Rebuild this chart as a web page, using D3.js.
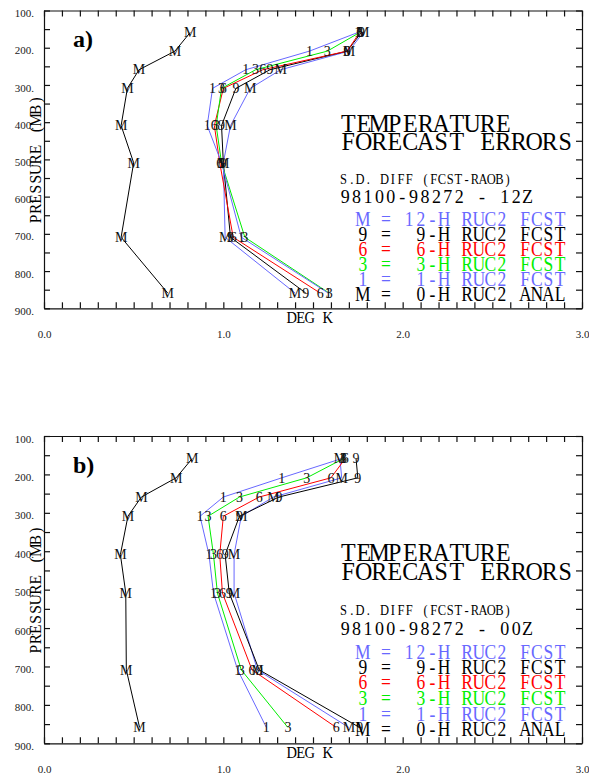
<!DOCTYPE html>
<html>
<head>
<meta charset="utf-8">
<script src="https://cdn.jsdelivr.net/npm/d3@7"></script>
<style>
  body { margin: 0; background: #fff; }
  text { white-space: pre; }
</style>
</head>
<body>
<div id="chart"></div>
<script>
// pressure levels (mb) of the soundings
var levels = [150, 200, 250, 300, 400, 500, 700, 850];

// panel a) 12Z, s.d. of temperature difference (deg K)
var anal12z  = [0.815, 0.73, 0.53, 0.465, 0.43, 0.50, 0.43, 0.69];
var fcst1h12z  = [1.75, 1.48, 1.125, 0.94, 0.91, 0.99, 1.10, 1.585];
var fcst3h12z  = [1.76, 1.58, 1.18, 0.99, 0.96, 0.99, 1.12, 1.59];
var fcst6h12z  = [1.76, 1.69, 1.22, 1.00, 0.95, 0.98, 1.055, 1.54];
var fcst9h12z  = [1.77, 1.69, 1.26, 1.07, 0.99, 1.00, 1.04, 1.46];
var fcst12h12z = [1.78, 1.70, 1.32, 1.15, 1.04, 1.00, 1.01, 1.40];

// panel b) 00Z
var anal00z  = [0.826, 0.737, 0.543, 0.468, 0.426, 0.456, 0.459, 0.533];
var fcst1h00z  = [1.66, 1.326, 1.00, 0.87, 0.92, 0.945, 1.08, 1.24];
var fcst3h00z  = [1.67, 1.465, 1.09, 0.915, 0.945, 0.967, 1.10, 1.36];
var fcst6h00z  = [1.68, 1.60, 1.20, 1.00, 0.98, 0.995, 1.16, 1.63];
var fcst9h00z  = [1.74, 1.75, 1.31, 1.09, 1.01, 1.033, 1.20, 1.76];
var fcst12h00z = [1.65, 1.66, 1.28, 1.10, 1.06, 1.06, 1.19, 1.70];

// axis ticks
var xLabelTicks = [0, 1, 2, 3];
var yLabelTicks = [100, 200, 300, 400, 500, 600, 700, 800, 900];

// series symbols, colours and legend text (drawn top to bottom)
var seriesMarks  = ['M', '9', '6', '3', '1', 'M'];
var seriesColors = ['#6868ff', '#000000', '#ff0000', '#00ee00', '#6868ff', '#000000'];
var legendLines  = ['M = 12-H RUC2 FCST', '9 =  9-H RUC2 FCST', '6 =  6-H RUC2 FCST',
                    '3 =  3-H RUC2 FCST', '1 =  1-H RUC2 FCST', 'M =  0-H RUC2 ANAL'];

var panels = [
  { tag: 'a)', time: '98100-98272 - 12Z', top: 10.5, bottom: 308.3,
    series: [fcst12h12z, fcst9h12z, fcst6h12z, fcst3h12z, fcst1h12z, anal12z] },
  { tag: 'b)', time: '98100-98272 - 00Z', top: 436, bottom: 743.3,
    series: [fcst12h00z, fcst9h00z, fcst6h00z, fcst3h00z, fcst1h00z, anal00z] }
];

var W = 589, H = 776;
var svg = d3.select('#chart').append('svg')
            .attr('width', W)
            .attr('height', H)
            .style('background', '#fff');

var x = d3.scaleLinear().domain([0, 3]).range([44, 582]);
var serif = 'Liberation Serif';

// plotter style text: serif glyphs on a fixed pitch, stretched upward
function mtext(g, str, tx, ty, pitch, fs, sy, color, rot) {
  var xs = str.split('').map(function(c, i) { return ((i + 0.5) * pitch).toFixed(2); });
  return g.append('text')
          .attr('transform', 'translate(' + tx + ',' + ty + ')' + (rot ? ' rotate(-90)' : '') + ' scale(1,' + sy + ')')
          .attr('x', xs.join(' '))
          .attr('font-family', serif)
          .attr('font-size', fs)
          .attr('fill', color || '#000')
          .attr('text-anchor', 'middle')
          .text(str);
}

panels.forEach(function(p) {

  var g = svg.append('g');
  var y = d3.scaleLinear().domain([100, 900]).range([p.top, p.bottom]);
  var h = p.bottom - p.top;
  var fy = function(f) { return p.top + f * h; };
  var shift = 3.4;

  // axes, ticks point inward
  var xt = d3.range(0, 30.5, 1).map(function(d) { return d / 10; });
  var yt = d3.range(100, 901, 50);

  g.append('g')
   .attr('transform', 'translate(0,' + p.bottom + ')')
   .call(d3.axisBottom(x).tickValues(xt).tickSizeInner(-6).tickSizeOuter(0).tickPadding(22)
           .tickFormat(function(d) { return Math.abs(d - Math.round(d)) < 1e-6 && xLabelTicks.indexOf(Math.round(d)) >= 0 ? d3.format('.1f')(d) : ''; }));
  g.append('g')
   .attr('transform', 'translate(0,' + p.top + ')')
   .call(d3.axisTop(x).tickValues(xt).tickSizeInner(-6).tickSizeOuter(0).tickFormat(''));
  var yl = g.append('g')
            .attr('transform', 'translate(' + x(0) + ',0)')
            .call(d3.axisLeft(y).tickValues(yt).tickSizeInner(-6).tickSizeOuter(0).tickPadding(10)
                    .tickFormat(function(d) { return yLabelTicks.indexOf(d) >= 0 ? d + '.' : ''; }));
  g.append('g')
   .attr('transform', 'translate(' + x(3) + ',0)')
   .call(d3.axisRight(y).tickValues(yt).tickSizeInner(-6).tickSizeOuter(0).tickFormat(''));

  g.selectAll('.domain, .tick line').attr('stroke', '#111').attr('stroke-width', 1.2);
  g.selectAll('.tick text')
   .attr('font-family', serif)
   .attr('font-size', 11)
   .attr('fill', '#222');
  yl.selectAll('.tick text').attr('dy', '0.55em');

  // axis titles
  mtext(g, 'DEG K', 309.7 - 2.5 * 9, fy(1.048), 9, 14.5, 1.16);
  mtext(g, 'PRESSURE (MB)', 41, fy(0.50) + 6.5 * 9.9, 9.9, 15.5, 1.05, '#000', true);

  // panel tag
  g.append('text')
   .attr('x', 73).attr('y', fy(0.122))
   .attr('font-family', serif)
   .attr('font-weight', 'bold')
   .attr('font-size', 24)
   .text(p.tag);

  // lines
  var line = d3.line()
               .x(function(d) { return x(d.v); })
               .y(function(d) { return y(d.p) + shift; });

  p.series.forEach(function(vals, i) {
    var pts = levels.map(function(lv, j) { return { p: lv, v: vals[j] }; });
    g.append('path')
     .datum(pts)
     .attr('d', line)
     .attr('fill', 'none')
     .attr('stroke', seriesColors[i])
     .attr('stroke-width', 1);
  });

  // point symbols
  p.series.forEach(function(vals, i) {
    g.selectAll(null)
     .data(levels.map(function(lv, j) { return { p: lv, v: vals[j] }; }))
     .enter().append('text')
     .attr('x', function(d) { return x(d.v); })
     .attr('y', function(d) { return y(d.p) + shift + 4.7; })
     .attr('font-family', serif)
     .attr('font-size', 14)
     .attr('text-anchor', 'middle')
     .attr('fill', '#111')
     .text(seriesMarks[i]);
  });

  // legend block
  mtext(g, 'TEMPERATURE', 340.5, fy(0.407), 15.5, 24, 1.05);
  mtext(g, 'FORECAST ERRORS', 340.5, fy(0.468), 15.5, 24, 1.05);
  mtext(g, 'S.D. DIFF (FCST-RAOB)', 339.5, fy(0.583), 8.2, 12.5, 1.22);
  mtext(g, p.time, 339.5, fy(0.648), 11.4, 18, 1.05);

  var rowY = [0.725, 0.775, 0.823, 0.876, 0.926, 0.976];
  legendLines.forEach(function(s, i) {
    mtext(g, s, 357, fy(rowY[i]), 11.6, 17.5, 1.22, seriesColors[i]);
  });
});
</script>
</body>
</html>
